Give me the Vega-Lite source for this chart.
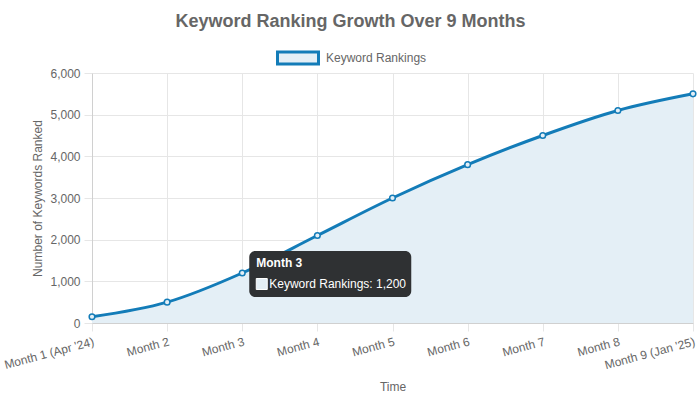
{
  "$schema": "https://vega.github.io/schema/vega-lite/v6.json",
  "width": 601,
  "height": 250,
  "autosize": {"type": "none"},
  "padding": {"left": 92, "top": 73, "right": 7, "bottom": 77},
  "background": "white",
  "config": {
    "font": "Liberation Sans",
    "view": {"stroke": null},
    "axis": {
      "labelFont": "Liberation Sans",
      "labelFontSize": 12,
      "labelColor": "#666666",
      "titleFont": "Liberation Sans",
      "titleFontSize": 12,
      "titleFontWeight": "normal",
      "titleColor": "#666666",
      "gridColor": "#e6e6e6",
      "tickColor": "#e6e6e6",
      "domainColor": "#d0d0d0",
      "tickSize": 8
    }
  },
  "title": {
    "text": "Keyword Ranking Growth Over 9 Months",
    "fontSize": 18,
    "fontWeight": "bold",
    "color": "#666666",
    "font": "Liberation Sans",
    "anchor": "middle",
    "dx": -42,
    "dy": 19,
    "baseline": "bottom",
    "offset": 6
  },
  "datasets": {
    "series": [
      {"month": "Month 1 (Apr '24)", "keywords": 150},
      {"month": "Month 2", "keywords": 500},
      {"month": "Month 3", "keywords": 1200},
      {"month": "Month 4", "keywords": 2100},
      {"month": "Month 5", "keywords": 3000},
      {"month": "Month 6", "keywords": 3800},
      {"month": "Month 7", "keywords": 4500},
      {"month": "Month 8", "keywords": 5100},
      {"month": "Month 9 (Jan '25)", "keywords": 5500}
    ],
    "tip": [
      {"month": "Month 3", "keywords": 1200, "title": "Month 3", "body": "Keyword Rankings: 1,200"}
    ]
  },
  "layer": [
    {
      "data": {"name": "series"},
      "mark": {"type": "area", "interpolate": "monotone", "color": "#e4eff6", "opacity": 1},
      "encoding": {
        "x": {
          "field": "month", "type": "ordinal", "sort": null,
          "scale": {"type": "point", "padding": 0},
          "axis": {
            "title": "Time",
            "labelAngle": -15,
            "labelAlign": "right",
            "labelBaseline": "top",
            "labelPadding": 5,
            "grid": true,
            "titleY": 63,
            "titleBaseline": "middle"
          }
        },
        "y": {
          "field": "keywords", "type": "quantitative",
          "scale": {"domain": [0, 6000], "nice": false},
          "axis": {
            "title": "Number of Keywords Ranked",
            "format": ",d",
            "tickCount": 6,
            "labelPadding": 4,
            "titleX": -55,
            "titleBaseline": "middle",
            "domain": true
          }
        }
      }
    },
    {
      "data": {"name": "series"},
      "mark": {"type": "line", "interpolate": "monotone", "strokeWidth": 3},
      "encoding": {
        "x": {"field": "month", "type": "ordinal", "sort": null},
        "y": {"field": "keywords", "type": "quantitative"},
        "stroke": {
          "datum": "Keyword Rankings",
          "scale": {"range": ["#137cb8"]},
          "legend": {
            "title": null,
            "orient": "none",
            "legendX": 184,
            "legendY": -37,
            "labelFont": "Liberation Sans",
            "labelFontSize": 12,
            "labelColor": "#666666",
            "labelOffset": 6,
            "symbolType": "M-1,-0.29H1V0.29H-1Z",
            "symbolSize": 1681,
            "symbolStrokeWidth": 3,
            "symbolFillColor": "#e4eff6",
            "encode": {
              "symbols": {
                "update": {
                  "fill": {"value": "#e4eff6"},
                  "stroke": {"value": "#137cb8"},
                  "strokeWidth": {"value": 3},
                  "opacity": {"value": 1}
                }
              }
            }
          }
        }
      }
    },
    {
      "data": {"name": "series"},
      "mark": {"type": "point", "shape": "circle", "size": 32, "filled": true, "fill": "#e4eff6", "stroke": "#137cb8", "strokeWidth": 1.5, "opacity": 1},
      "encoding": {
        "x": {"field": "month", "type": "ordinal", "sort": null},
        "y": {"field": "keywords", "type": "quantitative"}
      }
    },
    {
      "data": {"name": "tip"},
      "mark": {"type": "rect", "width": 162, "height": 46, "xOffset": 88, "yOffset": 1, "cornerRadius": 6, "fill": "#2f3133", "opacity": 1},
      "encoding": {
        "x": {"field": "month", "type": "ordinal", "sort": null},
        "y": {"field": "keywords", "type": "quantitative"}
      }
    },
    {
      "data": {"name": "tip"},
      "mark": {"type": "text", "align": "left", "baseline": "middle", "dx": 14, "dy": -10, "fontSize": 12, "fontWeight": "bold", "color": "#ffffff", "font": "Liberation Sans"},
      "encoding": {
        "x": {"field": "month", "type": "ordinal", "sort": null},
        "y": {"field": "keywords", "type": "quantitative"},
        "text": {"field": "title"}
      }
    },
    {
      "data": {"name": "tip"},
      "mark": {"type": "point", "shape": "square", "size": 121, "filled": true, "fill": "#e4eff6", "stroke": "#ffffff", "strokeWidth": 1, "xOffset": 19.5, "yOffset": 11, "opacity": 1},
      "encoding": {
        "x": {"field": "month", "type": "ordinal", "sort": null},
        "y": {"field": "keywords", "type": "quantitative"}
      }
    },
    {
      "data": {"name": "tip"},
      "mark": {"type": "text", "align": "left", "baseline": "middle", "dx": 27, "dy": 11, "fontSize": 12, "color": "#ffffff", "font": "Liberation Sans"},
      "encoding": {
        "x": {"field": "month", "type": "ordinal", "sort": null},
        "y": {"field": "keywords", "type": "quantitative"},
        "text": {"field": "body"}
      }
    }
  ]
}
